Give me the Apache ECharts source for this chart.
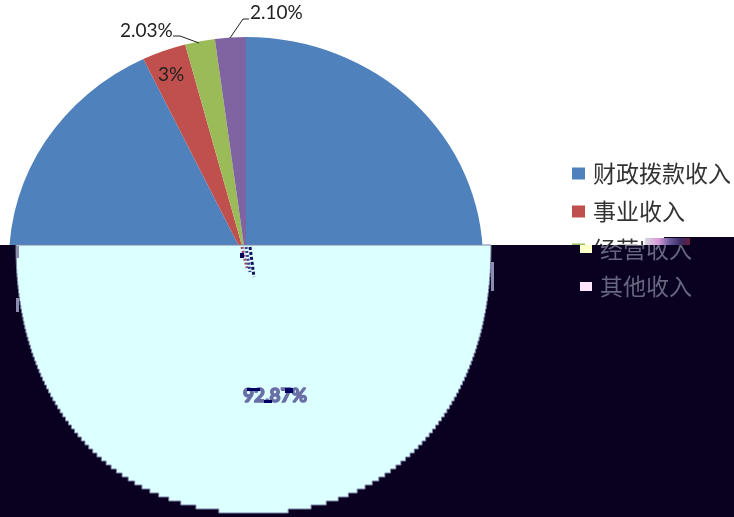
<!DOCTYPE html>
<html>
<head>
<meta charset="utf-8">
<style>
html, body { margin: 0; padding: 0; background: #fff; }
#main { width: 734px; height: 517px; }
</style>
<script src="https://cdn.jsdelivr.net/npm/echarts@6/dist/echarts.min.js"></script>
</head>
<body>
<div id="main"></div>
<script>
var categories = ['财政拨款收入', '事业收入', '经营收入', '其他收入'];
var shares = [92.87, 3, 2.03, 2.10];
var shareLabels = ['92.87%', '3%', '2.03%', '2.10%'];
var colors = ['#4f81bd', '#c0504d', '#9bbb59', '#8064a2'];

var latin = 'Lato, "Liberation Sans", sans-serif';
var cjk = '"Noto Sans CJK SC", sans-serif';
var darkBg = '#0a0020';
var paleCyan = '#dcffff';
var glitchText = '#66667e';
var splitY = 245;

var total = shares.reduce(function(a, b) { return a + b; }, 0);

// angle of a slice edge, the pie starts at 12 o'clock and runs clockwise
var edgeAngle = function(index) {
    var sum = 0;
    for (var i = 0; i < index; i++) {
        sum += shares[i];
    }
    return -Math.PI / 2 + sum / total * Math.PI * 2;
};

var sliceSeries = categories.map(function(name, idx) {
    return {
        type: 'custom',
        name: name,
        coordinateSystem: 'none',
        z: 1,
        silent: true,
        itemStyle: { color: colors[idx] },
        data: [shares[idx]],
        renderItem: function() {
            return {
                type: 'sector',
                x: 246,
                y: 260,
                scaleY: 223 / 237,
                shape: { cx: 0, cy: 0, r: 237, r0: 0, startAngle: edgeAngle(idx), endAngle: edgeAngle(idx + 1) },
                style: { fill: colors[idx] }
            };
        }
    };
});

// lower half of the big slice, the picture shows it stepped and wider than an ellipse
var lowerOutline = function() {
    var cx = 253.5, rx = 237.5, ry = 268, n = 2.15, rowH = 4;
    var left = [], right = [];
    for (var y = splitY; y + rowH <= splitY + ry; y += rowH) {
        var t = (y + rowH / 2 - splitY) / ry;
        var w = rx * Math.pow(1 - Math.pow(t, n), 1 / n);
        left.push([cx - w, y], [cx - w, y + rowH]);
        right.unshift([cx + w, y + rowH], [cx + w, y]);
    }
    return left.concat(right);
};

var text = function(str, x, y, font, fill, extra) {
    var el = {
        type: 'text',
        x: x,
        y: y,
        style: { text: str, font: font, fill: fill, textAlign: 'left', textVerticalAlign: 'middle' }
    };
    return Object.assign(el, extra || {});
};

var rect = function(x, y, w, h, fill) {
    return { type: 'rect', shape: { x: x, y: y, width: w, height: h }, style: { fill: fill } };
};

var stripe = function(points, color, dash) {
    return {
        type: 'polyline',
        shape: { points: points },
        style: { stroke: color, fill: null, lineWidth: 3, lineDash: dash }
    };
};

var lowerSeries = {
    type: 'custom',
    name: 'lower',
    coordinateSystem: 'none',
    z: 10,
    silent: true,
    data: [shares[0]],
    renderItem: function() {
        // clip shape is in the text's own coordinates
        var legendClip = { type: 'rect', shape: { x: -5, y: splitY - 249, width: 144, height: 40 } };
        var centreValue = text(shareLabels[0], 243, 396, 'bold 19px ' + latin, '#6a6ea6');
        centreValue.style.stroke = '#6a6ea6';
        centreValue.style.lineWidth = 1.5;
        return {
            type: 'group',
            children: [
                rect(0, splitY, 734, 517 - splitY, darkBg),
                rect(664, 237, 70, 9, darkBg),
                {
                    type: 'rect',
                    shape: { x: 645, y: 238, width: 45, height: 7 },
                    style: {
                        fill: {
                            type: 'linear', x: 0, y: 0, x2: 1, y2: 0,
                            colorStops: [
                                { offset: 0, color: '#d8d8e0' },
                                { offset: 0.3, color: '#d79ad8' },
                                { offset: 0.55, color: '#6a5a9c' },
                                { offset: 0.8, color: '#3a2a62' },
                                { offset: 1, color: '#6a1c3c' }
                            ]
                        }
                    }
                },
                {
                    type: 'polygon',
                    shape: { points: lowerOutline() },
                    style: { fill: paleCyan, stroke: '#7c80a8', lineWidth: 1 }
                },
                // torn slice borders below the centre
                stripe([[242, 247], [247, 268]], '#a04868', [2, 2]),
                stripe([[246, 247], [250, 272]], '#3a3a8a', [2, 2]),
                stripe([[250, 247], [254, 277]], '#101060', [3, 2]),
                rect(240, 253, 4, 5, '#000060'),
                // same stubs along the edge
                rect(16, 246, 3, 12, '#8a8cb0'),
                rect(16, 298, 3, 14, '#8a8cb0'),
                rect(491, 262, 3, 29, '#8a8cb0'),
                // centre value
                centreValue,
                rect(247, 388, 13, 3, '#000060'),
                rect(264, 400, 8, 3, '#000060'),
                rect(285, 388, 8, 5, '#000060'),
                // legend rows that fell in the dark part
                rect(580, splitY, 12, 8, '#fbffc8'),
                rect(580, 282, 12, 9, '#ffe4ff'),
                text(categories[2], 600, 249, '23px ' + cjk, glitchText, { clipPath: legendClip }),
                text(categories[3], 600, 286, '23px ' + cjk, glitchText)
            ]
        };
    }
};

var labelSeries = {
    type: 'custom',
    name: 'labels',
    coordinateSystem: 'none',
    z: 3,
    silent: true,
    data: [shares[1]],
    renderItem: function() {
        return {
            type: 'group',
            children: [
                text(shareLabels[1], 158, 75, '19px ' + latin, '#222'),
                text(shareLabels[2], 120, 31, '19px ' + latin, '#222'),
                text(shareLabels[3], 250, 13, '19px ' + latin, '#222'),
                {
                    type: 'polyline',
                    shape: { points: [[173, 36], [180, 36], [199, 43]] },
                    style: { stroke: '#222', fill: null, lineWidth: 1 }
                },
                {
                    type: 'polyline',
                    shape: { points: [[230, 38], [243, 19], [249, 19]] },
                    style: { stroke: '#222', fill: null, lineWidth: 1 }
                }
            ]
        };
    }
};

var myChart = echarts.init(document.getElementById('main'));
myChart.setOption({
    animation: false,
    backgroundColor: '#fff',
    legend: {
        data: categories,
        orient: 'vertical',
        left: 567,
        top: 157,
        z: 1,
        icon: 'rect',
        itemWidth: 13,
        itemHeight: 12,
        itemGap: 15,
        selectedMode: false,
        textStyle: { fontFamily: cjk, fontSize: 23, color: '#333', padding: [0, 0, 0, 3] }
    },
    series: sliceSeries.concat([labelSeries, lowerSeries])
});
</script>
</body>
</html>
